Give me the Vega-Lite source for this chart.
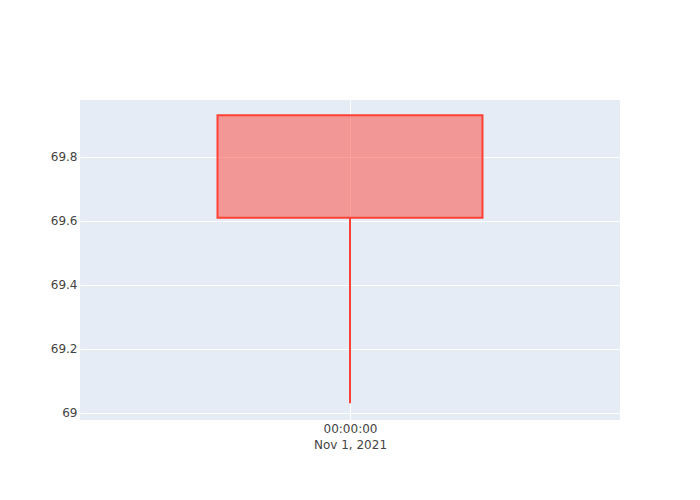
{
  "$schema": "https://vega.github.io/schema/vega-lite/v6.json",
  "width": 540,
  "height": 320,
  "autosize": "none",
  "padding": {"left": 80, "top": 100, "right": 80, "bottom": 80},
  "background": "white",
  "config": {
    "view": {"fill": "#E5ECF6", "stroke": null},
    "font": "DejaVu Sans",
    "axis": {
      "domain": false,
      "ticks": false,
      "gridColor": "white",
      "gridWidth": 1,
      "gridOpacity": 1,
      "labelFont": "DejaVu Sans",
      "labelFontSize": 12,
      "labelColor": "#444444",
      "title": null
    }
  },
  "data": {
    "values": [
      {"date": "2021-11-01T00:00:00Z", "open": 69.93, "high": 69.93, "low": 69.03, "close": 69.61}
    ]
  },
  "encoding": {
    "x": {
      "field": "date",
      "type": "temporal",
      "scale": {"type": "utc", "domain": ["2021-10-31T12:00:00Z", "2021-11-01T12:00:00Z"]},
      "axis": {
        "values": [{"year": 2021, "month": 11, "date": 1, "utc": true}],
        "labelExpr": "[utcFormat(datum.value, '%H:%M:%S'), utcFormat(datum.value, '%b %-d, %Y')]",
        "labelPadding": 3,
        "labelLineHeight": 16,
        "labelBaseline": "top"
      }
    }
  },
  "layer": [
    {
      "mark": {"type": "rule", "color": "#FF4136", "strokeWidth": 2},
      "encoding": {
        "y": {
          "field": "low",
          "type": "quantitative",
          "scale": {"domain": [68.978, 69.978], "zero": false, "nice": false},
          "axis": {
            "values": [69, 69.2, 69.4, 69.6, 69.8],
            "format": ".1~f",
            "labelPadding": 3
          }
        },
        "y2": {"field": "close"}
      }
    },
    {
      "mark": {"type": "bar", "size": 265, "fill": "#FF4136", "fillOpacity": 0.5, "stroke": "#FF4136", "strokeWidth": 2},
      "encoding": {
        "y": {"field": "open", "type": "quantitative"},
        "y2": {"field": "close"}
      }
    }
  ]
}
